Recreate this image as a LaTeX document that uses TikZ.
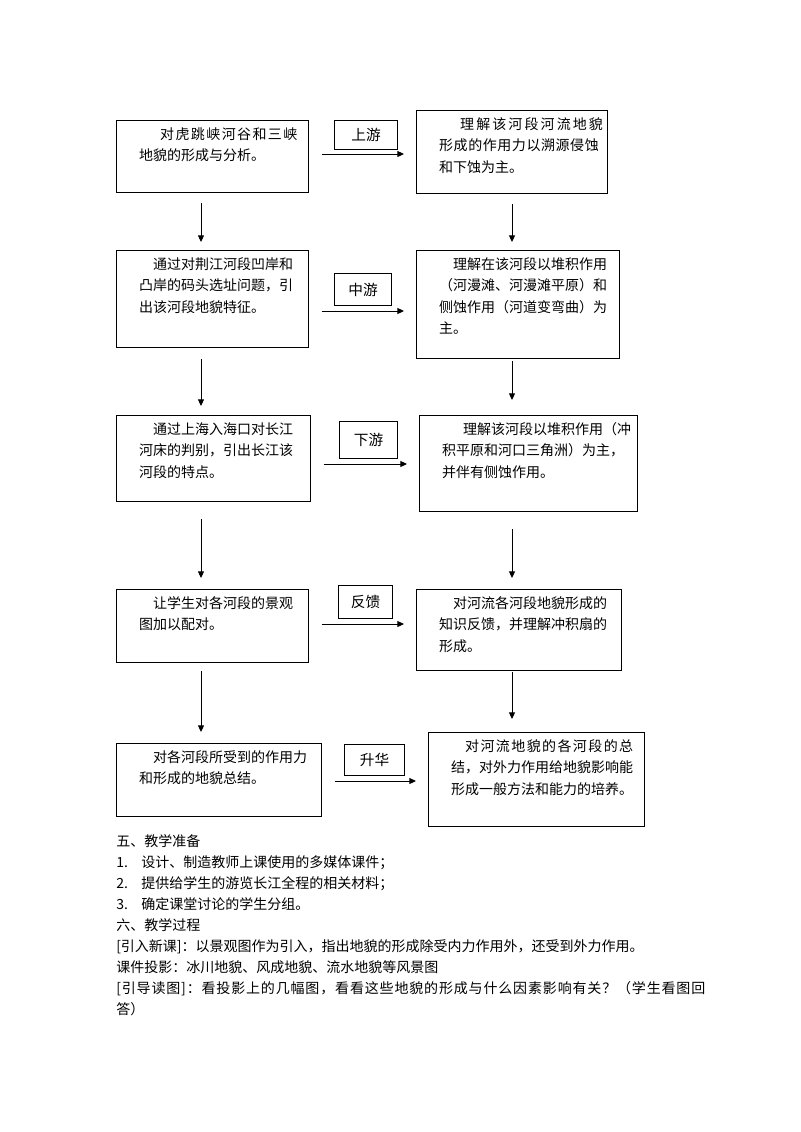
\documentclass[tikz,border=0pt]{standalone}
\usepackage{fontspec}
\newfontfamily\cjk{Noto Sans CJK SC}
\newcommand{\spreadline}[2]{{\addfontfeature{LetterSpace=#1}#2}}
\usetikzlibrary{positioning,arrows.meta}

\begin{document}
\begin{tikzpicture}[
			x=0.75pt, y=-0.75pt,
			every node/.style={font=\cjk},
			box/.style={draw=black, line width=0.75pt, anchor=north west, align=left, inner xsep=17pt, inner ysep=0pt, text height=14pt, font=\cjk\fontsize{10.5}{16.2}\selectfont},
			tag/.style={draw=black, line width=0.75pt, anchor=north west, inner sep=0pt, font=\cjk\fontsize{11}{13}\selectfont},
			flow/.style={draw=black, line width=0.75pt, -{Triangle[length=5pt, width=4.5pt]}},
			hflow/.style={flow, shorten <=9.4pt, shorten >=9pt},
			note/.style={anchor=base west, align=left, inner sep=0pt, text width=460pt, font=\cjk\fontsize{10.5}{15.75}\selectfont}
			]
			
			\path [fill=white, use as bounding box] (0,0) rectangle (800,1132);
			
			\coordinate (lx) at (201,0);
			\coordinate (rx) at (512,0);
			
			\node (upl) at (116,120) [box, text width=110pt, text depth=40pt] {\hspace*{1.5em}\spreadline{10}{对虎跳峡河谷和三峡}\\地貌的形成与分析。};
			\node (upr) at (416,110) [box, text width=109.25pt, text depth=48.25pt] {\hspace*{1.5em}\spreadline{15}{理解该河段河流地貌}\\\spreadline{4}{形成的作用力以溯源侵蚀}\\和下蚀为主。};
			\node (upt) at (334,120) [tag, minimum width=47.25pt, minimum height=21.75pt] {上游};
			
			\node (midl) at (116,250) [box, text width=110pt, text depth=58.75pt] {\hspace*{1em}通过对荆江河段凹岸和\\凸岸的码头选址问题，引\\出该河段地貌特征。};
			\node (midr) at (416,250) [box, text width=118.25pt, text depth=67pt] {\hspace*{1em}理解在该河段以堆积作用\\（河漫滩、河漫滩平原）和\\侧蚀作用（河道变弯曲）为\\主。};
			\node (midt) at (334,273) [tag, minimum width=42.75pt, minimum height=24pt] {中游};
			
			\node (lowl) at (116,415) [box, text width=111.5pt, text depth=50.5pt] {\hspace*{1em}通过上海入海口对长江\\河床的判别，引出长江该\\河段的特点。};
			\node (lowr) at (419,415) [box, text width=129.5pt, text depth=58pt] {\hspace*{1.5em}理解该河段以堆积作用（冲\\积平原和河口三角洲）为主，\\并伴有侧蚀作用。};
			\node (lowt) at (339,421) [tag, minimum width=43.5pt, minimum height=27.75pt] {下游};
			
			\node (fbl) at (116,589) [box, text width=110pt, text depth=40.75pt] {\hspace*{1em}让学生对各河段的景观\\图加以配对。};
			\node (fbr) at (416,589) [box, text width=119.75pt, text depth=46.75pt] {\hspace*{1em}对河流各河段地貌形成的\\知识反馈，并理解冲积扇的\\形成。};
			\node (fbt) at (338,585) [tag, minimum width=40.5pt, minimum height=24.75pt] {反馈};
			
			\node (sul) at (116,743) [box, text width=119.75pt, text depth=40.75pt] {\hspace*{1em}对各河段所受到的作用力\\和形成的地貌总结。};
			\node (sur) at (428,732) [box, text width=128pt, text depth=56.5pt] {\hspace*{1em}\spreadline{10}{对河流地貌的各河段的总}\\结，对外力作用给地貌影响能\\形成一般方法和能力的培养。};
			\node (sut) at (344,744) [tag, minimum width=45pt, minimum height=23.25pt] {升华};
			
			\coordinate (ua) at (0,154);
			\coordinate (ma) at (0,311);
			\coordinate (la) at (0,464);
			\coordinate (fa) at (0,624);
			\coordinate (sa) at (0,781);
			
			\draw [hflow] (upl.east |- ua) -- (upr.west |- ua);
			\draw [hflow] (midl.east |- ma) -- (midr.west |- ma);
			\draw [hflow] (lowl.east |- la) -- (lowr.west |- la);
			\draw [hflow] (fbl.east |- fa) -- (fbr.west |- fa);
			\draw [hflow] (sul.east |- sa) -- (sur.west |- sa);
			
			\draw [flow, shorten <=7.5pt, shorten >=6pt] (upl.south -| lx) -- (midl.north -| lx);
			\draw [flow, shorten <=8.25pt, shorten >=6.75pt] (midl.south -| lx) -- (lowl.north -| lx);
			\draw [flow, shorten <=12.75pt, shorten >=8.25pt] (lowl.south -| lx) -- (fbl.north -| lx);
			\draw [flow, shorten <=6pt, shorten >=8.25pt] (fbl.south -| lx) -- (sul.north -| lx);
			
			\draw [flow, shorten <=7.5pt, shorten >=6pt] (upr.south -| rx) -- (midr.north -| rx);
			\draw [flow, shorten <=1.5pt, shorten >=11.25pt] (midr.south -| rx) -- (lowr.north -| rx);
			\draw [flow, shorten <=12.75pt, shorten >=8.25pt] (lowr.south -| rx) -- (fbr.north -| rx);
			\draw [flow, shorten <=0.75pt, shorten >=9.75pt] (fbr.south -| rx) -- (sur.north -| rx);
			
			\node (prep) at (116,846) [note] {五、教学准备\\
				\makebox[18.75pt][l]{1.}设计、制造教师上课使用的多媒体课件；\\
				\makebox[18.75pt][l]{2.}提供给学生的游览长江全程的相关材料；\\
				\makebox[18.75pt][l]{3.}确定课堂讨论的学生分组。\\
				六、教学过程\\
				{[}引入新课{]}：以景观图作为引入，指出地貌的形成除受内力作用外，还受到外力作用。\\
				课件投影：冰川地貌、风成地貌、流水地貌等风景图\\
				\spreadline{6}{{[}引导读图{]}：看投影上的几幅图，看看这些地貌的形成与什么因素影响有关？（学生看图回}\\
				答）};
			\end{tikzpicture}
\end{document}
